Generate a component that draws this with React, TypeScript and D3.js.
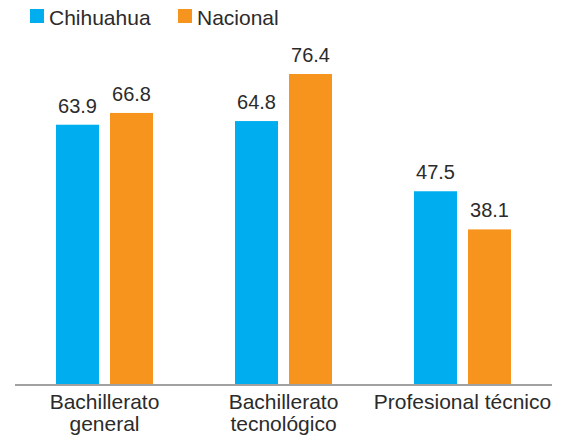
import React from "react";
import * as d3 from "d3";

const categories = ["Bachillerato general", "Bachillerato tecnológico", "Profesional técnico"];
const categoryLines = [["Bachillerato", "general"], ["Bachillerato", "tecnológico"], ["Profesional técnico"]];
const seriesNames = ["Chihuahua", "Nacional"];
const chihuahua = [63.9, 64.8, 47.5];
const nacional = [66.8, 76.4, 38.1];
const seriesColors = ["#00AEEF", "#F7941D"];

export default function App() {
  const width = 561;
  const height = 437;
  const baseY = 384;
  const values = [chihuahua, nacional];

  const y = d3.scaleLinear().domain([0, 76.4]).range([baseY, 74]);
  const xGroup = d3.scalePoint<string>().domain(categories).range([104.5, 462.5]);
  const xInner = d3.scaleBand<string>().domain(seriesNames).range([-48.5, 48.5]).paddingInner(11 / 54).paddingOuter(0);

  const font = "'Liberation Sans', Arial, Helvetica, sans-serif";
  const textColor = "#2b2b2b";

  return (
    <svg width={width} height={height} style={{ position: "absolute", left: 0, top: 0 }} fontFamily={font}>
      {/* legend */}
      {seriesNames.map((s, i) => {
        const lx = i === 0 ? 30 : 178;
        return (
          <g key={s}>
            <rect x={lx} y={9} width={14} height={14} fill={seriesColors[i]} />
            <text x={lx + 19} y={25} fontSize={21} fill={textColor}>{s}</text>
          </g>
        );
      })}
      {/* bars */}
      {categories.map((c, ci) => (
        <g key={c}>
          {seriesNames.map((s, si) => {
            const v = values[si][ci];
            const bx = (xGroup(c) as number) + (xInner(s) as number);
            const bw = xInner.bandwidth();
            return (
              <g key={s}>
                <rect x={bx} y={y(v)} width={bw} height={baseY - y(v)} fill={seriesColors[si]} />
                <text x={bx + bw / 2} y={y(v) - 12} textAnchor="middle" fontSize={20} fill={textColor}>
                  {v.toFixed(1)}
                </text>
              </g>
            );
          })}
        </g>
      ))}
      {/* axis */}
      <line x1={15} x2={552} y1={baseY + 1} y2={baseY + 1} stroke="#828282" strokeWidth={1.5} />
      {categories.map((c, ci) =>
        categoryLines[ci].map((line, li) => (
          <text
            key={c + li}
            x={xGroup(c) as number}
            y={409 + li * 21.5}
            textAnchor="middle"
            fontSize={21}
            fill={textColor}
          >
            {line}
          </text>
        ))
      )}
    </svg>
  );
}
